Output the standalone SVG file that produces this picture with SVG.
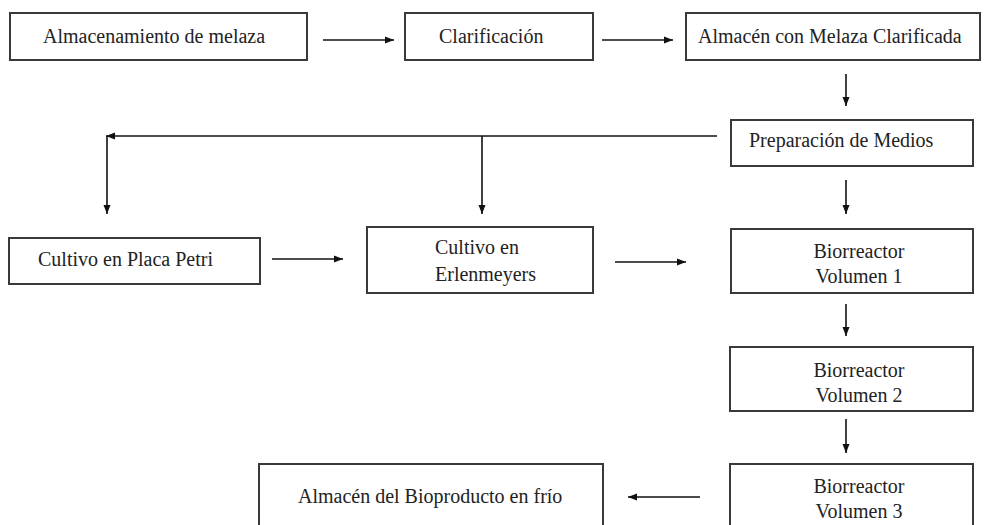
<svg xmlns="http://www.w3.org/2000/svg" width="993" height="525" viewBox="0 0 993 525">
<style>
.box{fill:#fff;stroke:#3a3a3a;stroke-width:2}
.t{font-family:"Liberation Serif","Times New Roman",serif;font-size:20px;fill:#222}
.c{text-anchor:middle}
.ln{stroke:#111;stroke-width:1.6;fill:none}
.ar{marker-end:url(#ah)}
</style>
<defs>
<marker id="ah" markerUnits="userSpaceOnUse" markerWidth="10" markerHeight="8" refX="9" refY="4" orient="auto">
<path d="M0,0.5 L9,4 L0,7.5 z" fill="#111"/>
</marker>
</defs>
<rect width="993" height="525" fill="#fff"/>
<g id="connectors">
<line class="ln ar" x1="323" y1="40" x2="394" y2="40"/>
<line class="ln ar" x1="602" y1="40" x2="673" y2="40"/>
<line class="ln ar" x1="846" y1="74" x2="846" y2="106"/>
<line class="ln ar" x1="717" y1="136" x2="106" y2="136"/>
<line class="ln ar" x1="107" y1="136" x2="107" y2="214"/>
<line class="ln ar" x1="482" y1="136" x2="482" y2="214"/>
<line class="ln ar" x1="846" y1="180" x2="846" y2="214"/>
<line class="ln ar" x1="272" y1="259" x2="343" y2="259"/>
<line class="ln ar" x1="615" y1="262" x2="686" y2="262"/>
<line class="ln ar" x1="846" y1="304" x2="846" y2="336"/>
<line class="ln ar" x1="846" y1="419" x2="846" y2="453"/>
<line class="ln ar" x1="700" y1="497" x2="628" y2="497"/>
</g>
<g id="n1"><rect class="box" x="10" y="13" width="297" height="47"/><text class="t" x="43" y="43">Almacenamiento de melaza</text></g>
<g id="n2"><rect class="box" x="405" y="13" width="188" height="47"/><text class="t" x="439" y="43">Clarificación</text></g>
<g id="n3"><rect class="box" x="686" y="13" width="294" height="47"/><text class="t" x="698" y="43">Almacén con Melaza Clarificada</text></g>
<g id="n4"><rect class="box" x="731" y="120" width="242" height="46"/><text class="t" x="749" y="147">Preparación de Medios</text></g>
<g id="n5"><rect class="box" x="9" y="238" width="251" height="46"/><text class="t" x="38" y="266">Cultivo en Placa Petri</text></g>
<g id="n6"><rect class="box" x="367" y="227" width="226" height="66"/><text class="t" x="435" y="254">Cultivo en</text><text class="t" x="435" y="281">Erlenmeyers</text></g>
<g id="n7"><rect class="box" x="731" y="229" width="242" height="64"/><text class="t c" x="859" y="258">Biorreactor</text><text class="t c" x="859" y="283">Volumen 1</text></g>
<g id="n8"><rect class="box" x="730" y="347" width="243" height="64"/><text class="t c" x="859" y="377">Biorreactor</text><text class="t c" x="859" y="402">Volumen 2</text></g>
<g id="n9"><rect class="box" x="730" y="464" width="243" height="70"/><text class="t c" x="859" y="493">Biorreactor</text><text class="t c" x="859" y="518">Volumen 3</text></g>
<g id="n10"><rect class="box" x="259" y="464" width="344" height="70"/><text class="t" x="298" y="503">Almacén del Bioproducto en frío</text></g>
</svg>
